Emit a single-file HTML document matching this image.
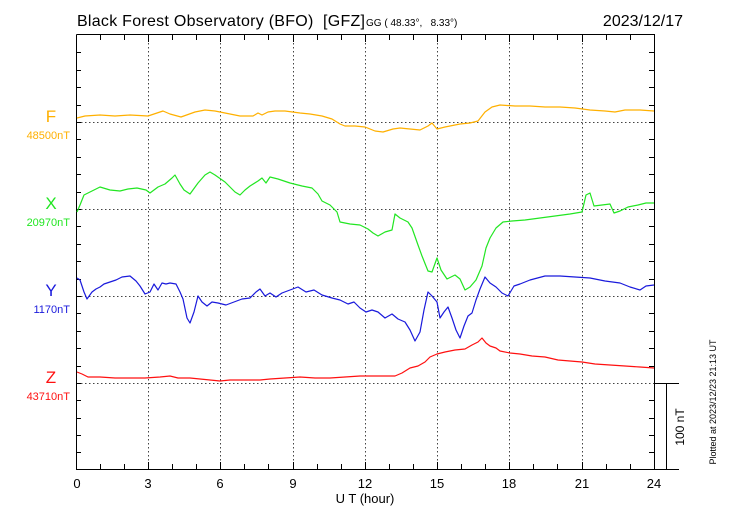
<!DOCTYPE html>
<html><head><style>body{margin:0;background:#fff}svg{display:block}text{font-family:"Liberation Sans",sans-serif}</style></head><body>
<svg width="730" height="520" xmlns="http://www.w3.org/2000/svg">
<rect width="730" height="520" fill="#fff"/>
<text x="77" y="26" font-size="16" textLength="288" lengthAdjust="spacing">Black Forest Observatory (BFO)&#160;&#160;[GFZ]</text>
<text x="366" y="26" font-size="10">GG ( 48.33°,&#160;&#160; 8.33°)</text>
<text x="683" y="26" font-size="16" text-anchor="end">2023/12/17</text>
<g stroke="#000" stroke-width="1" fill="none">
<path d="M76.5 34.5V469.5H654.5V34.5H76.5"/>
<path d="M654.5 383.5H679M666.5 383.5V469.5M654.5 469.5H679"/>
</g>
<g stroke="#444" stroke-width="1" stroke-dasharray="1.5,2.5">
<path d="M148.5 35V469M220.5 35V469M293.5 35V469M365.5 35V469M437.5 35V469M509.5 35V469M582.5 35V469"/>
<path d="M77 122.5H654M77 209.5H654M77 296.5H654M77 383.5H654"/>
</g>
<g stroke="#000" stroke-width="1" id="tk">
<path d="M76 52.5h5M76 70.5h5M76 87.5h5M76 105.5h5M76 122.5h5M76 139.5h5M76 157.5h5M76 174.5h5M76 192.5h5M76 209.5h5M76 226.5h5M76 244.5h5M76 261.5h5M76 279.5h5M76 296.5h5M76 313.5h5M76 331.5h5M76 348.5h5M76 366.5h5M76 383.5h5M76 400.5h5M76 418.5h5M76 435.5h5M76 452.5h5"/>
<path d="M654 52.5h-5M654 70.5h-5M654 87.5h-5M654 105.5h-5M654 122.5h-5M654 139.5h-5M654 157.5h-5M654 174.5h-5M654 192.5h-5M654 209.5h-5M654 226.5h-5M654 244.5h-5M654 261.5h-5M654 279.5h-5M654 296.5h-5M654 313.5h-5M654 331.5h-5M654 348.5h-5M654 366.5h-5M654 400.5h-5M654 418.5h-5M654 435.5h-5M654 452.5h-5"/>
<path d="M100.5 35v5M124.5 35v5M148.5 35v7M172.5 35v5M196.5 35v5M220.5 35v7M244.5 35v5M268.5 35v5M293.5 35v7M317.5 35v5M341.5 35v5M365.5 35v7M389.5 35v5M413.5 35v5M437.5 35v7M461.5 35v5M485.5 35v5M509.5 35v7M533.5 35v5M557.5 35v5M582.5 35v7M606.5 35v5M630.5 35v5"/>
<path d="M100.5 469v-5M124.5 469v-5M148.5 469v-7M172.5 469v-5M196.5 469v-5M220.5 469v-7M244.5 469v-5M268.5 469v-5M293.5 469v-7M317.5 469v-5M341.5 469v-5M365.5 469v-7M389.5 469v-5M413.5 469v-5M437.5 469v-7M461.5 469v-5M485.5 469v-5M509.5 469v-7M533.5 469v-5M557.5 469v-5M582.5 469v-7M606.5 469v-5M630.5 469v-5"/>
</g>
<g font-size="13" text-anchor="middle">
<text x="77" y="488">0</text><text x="148" y="488">3</text><text x="220" y="488">6</text><text x="293" y="488">9</text><text x="365" y="488">12</text><text x="437" y="488">15</text><text x="509" y="488">18</text><text x="582" y="488">21</text><text x="654" y="488">24</text>
<text x="365" y="503">U T (hour)</text>
</g>
<text transform="translate(684,427) rotate(-90)" font-size="12" text-anchor="middle">100 nT</text>
<text transform="translate(716,402) rotate(-90)" font-size="9" text-anchor="middle">Plotted at 2023/12/23 21:13 UT</text>
<g font-size="17" text-anchor="middle">
<text x="51" y="122" fill="#ffb000">F</text>
<text x="51" y="209" fill="#22e622">X</text>
<text x="51" y="296" fill="#1a1adc">Y</text>
<text x="51" y="383" fill="#ff1010">Z</text>
</g>
<g font-size="11" text-anchor="end">
<text x="70" y="139" fill="#ffb000">48500nT</text>
<text x="70" y="226" fill="#22e622">20970nT</text>
<text x="70" y="313" fill="#1a1adc">1170nT</text>
<text x="70" y="400" fill="#ff1010">43710nT</text>
</g>
<g fill="none" stroke-width="1.2" stroke-linejoin="round">
<polyline stroke="#ffb000" points="77,118 85,116 100,115 115,116 130,115 148,116 163,111 170,114 181,117 195,112 205,110 215,111 225,113 240,116 253,116 258,113 262,115 268,112 275,111 285,111 300,113 310,114 322,116 332,119 340,124 345,126 355,126 365,127 375,131 383,132 393,129 400,128 410,129 420,130 428,126 432,123 437,129 445,127 460,124 470,123 478,121 485,112 492,107 500,105 515,106 530,106 545,107 560,107 575,108 590,110 605,111 615,112 625,110 640,110 654,111"/>
<polyline stroke="#22e622" points="77,212 80,205 84,195 90,192 96,189 100,187 110,190 120,191 128,189 137,188 146,190 150,193 158,187 165,184 172,178 175,175 180,184 184,190 190,194 198,183 205,175 210,172 215,175 225,182 235,192 240,195 245,190 250,186 258,181 262,178 266,183 270,177 278,179 290,183 302,186 312,188 318,194 322,201 330,205 337,212 340,222 350,224 360,225 368,229 373,233 378,236 385,232 392,230 395,214 400,218 408,222 412,228 418,245 422,256 428,271 432,272 437,258 441,270 447,279 455,275 460,279 465,290 470,287 476,280 482,266 486,248 490,238 496,228 503,222 512,221 525,220 540,218 555,216 570,214 582,212 586,195 590,193 594,206 602,205 610,204 614,213 620,211 628,207 638,205 646,203 654,203"/>
<polyline stroke="#1a1adc" points="77,278 80,280 84,292 87,299 92,292 96,289 100,287 104,284 110,282 116,280 122,277 130,276 136,281 140,286 145,294 150,292 154,284 158,290 162,283 166,284 170,283 176,284 180,292 183,299 187,318 190,323 194,312 198,296 202,302 207,306 212,302 218,303 226,305 234,302 242,299 250,298 256,292 260,289 265,296 270,293 276,297 282,293 290,290 298,287 306,292 314,290 322,295 332,298 340,300 348,304 354,302 360,308 366,312 372,310 378,312 385,318 392,314 398,319 405,322 410,330 415,341 420,332 424,310 428,292 432,296 437,302 440,318 444,312 448,307 452,318 456,330 460,338 464,326 468,316 472,313 476,300 480,289 485,277 490,283 496,287 502,293 508,296 514,286 520,284 530,280 545,276 560,276 575,277 590,278 605,281 620,283 630,287 640,290 646,286 654,285"/>
<polyline stroke="#ff1010" points="77,372 82,374 88,377 100,377 115,378 130,378 145,378 160,377 170,376 178,378 190,378 200,379 210,380 220,381 230,380 245,380 260,380 270,379 285,378 300,377 315,378 330,378 345,377 360,376 372,376 385,376 395,376 402,373 410,368 418,366 425,362 430,357 437,354 445,352 455,350 465,349 472,345 478,342 482,338 486,343 490,346 496,348 500,351 510,353 520,354 532,356 545,357 558,360 570,361 582,362 595,364 610,365 625,366 640,367 654,368"/>
</g>
</svg>
</body></html>
